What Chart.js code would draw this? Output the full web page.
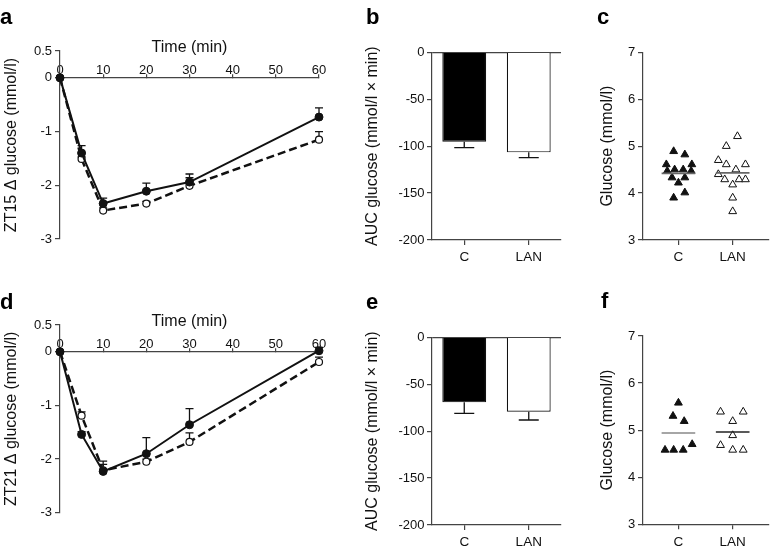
<!DOCTYPE html>
<html>
<head>
<meta charset="utf-8">
<script src="https://cdn.jsdelivr.net/npm/chart.js@4.4.1/dist/chart.umd.min.js"></script>
<style>
  html, body { margin: 0; padding: 0; background: #fff; }
  #wrap { position: relative; width: 774px; height: 551px; overflow: hidden; }
  canvas { position: absolute; }
  .lbl { position: absolute; font: bold 22px 'Liberation Sans', Arial, sans-serif; line-height: 22px; color: #000; }
</style>
</head>
<body>
<div id="wrap">
  <canvas id="cA" width="345" height="270" style="left:0;top:0"></canvas>
  <canvas id="cB" width="220" height="275" style="left:355px;top:0"></canvas>
  <canvas id="cC" width="184" height="275" style="left:590px;top:0"></canvas>
  <canvas id="cD" width="345" height="276" style="left:0;top:275px"></canvas>
  <canvas id="cE" width="220" height="285" style="left:355px;top:275px"></canvas>
  <canvas id="cF" width="184" height="285" style="left:590px;top:275px"></canvas>
  <div class="lbl" style="left:0;top:6px">a</div>
  <div class="lbl" style="left:366px;top:6px">b</div>
  <div class="lbl" style="left:597px;top:6px">c</div>
  <div class="lbl" style="left:0;top:291px">d</div>
  <div class="lbl" style="left:366px;top:291px">e</div>
  <div class="lbl" style="left:601px;top:290px">f</div>
</div>
<script>
// time course (panels a, d)
var timeMin = [0, 5, 10, 20, 30, 60];
var timeTicks = [0, 10, 20, 30, 40, 50, 60];
var deltaTicks = [-3, -2, -1, 0, 0.5];
var zt15Control = [0, -1.40, -2.34, -2.11, -1.94, -0.73];
var zt15ControlSem = [0, 0.14, 0.10, 0.15, 0.15, 0.17];
var zt15Lan = [0, -1.51, -2.47, -2.34, -2.01, -1.15];
var zt15LanSem = [0, 0.04, 0.05, 0.04, 0.15, 0.15];
var zt21Control = [0, -1.54, -2.23, -1.90, -1.36, 0.02];
var zt21ControlSem = [0, 0.05, 0.19, 0.30, 0.30, 0.06];
var zt21Lan = [0, -1.19, -2.21, -2.05, -1.68, -0.19];
var zt21LanSem = [0, 0.07, 0.11, 0.05, 0.17, 0.09];

// AUC (panels b, e)
var groups = ['C', 'LAN'];
var aucTicks = [-200, -150, -100, -50, 0];
var zt15Auc = [-95.3, -106.6];
var zt15AucSem = [6.3, 5.7];
var zt21Auc = [-69.3, -79.3];
var zt21AucSem = [11.7, 8.8];

// basal glucose (panels c, f)
var glucoseTicks = [3, 4, 5, 6, 7];
var zt15GlucoseC = [4.89, 4.82, 4.61, 4.61, 4.47, 4.50, 4.50, 4.47, 4.33, 4.33, 4.22, 4.01, 3.90];
var zt15GlucoseCX = [0.912, 1.118, 0.777, 1.247, 0.794, 0.93, 1.088, 1.235, 0.882, 1.118, 1.0, 1.118, 0.912];
var zt15GlucoseLan = [5.21, 5.0, 4.70, 4.61, 4.61, 4.50, 4.40, 4.29, 4.29, 4.29, 4.18, 3.90, 3.61];
var zt15GlucoseLanX = [2.088, 1.882, 1.735, 1.882, 2.235, 2.059, 1.735, 1.853, 2.118, 2.235, 2.0, 2.0, 2.0];
var zt15Means = [4.42, 4.43];
var zt21GlucoseC = [5.58, 5.30, 5.19, 4.58, 4.58, 4.58, 4.70];
var zt21GlucoseCX = [1.0, 0.9, 1.106, 0.753, 0.912, 1.088, 1.253];
var zt21GlucoseLan = [5.39, 5.39, 5.19, 4.89, 4.68, 4.58, 4.58];
var zt21GlucoseLanX = [1.776, 2.194, 2.0, 2.0, 1.776, 2.0, 2.194];
var zt21Means = [4.94, 4.96];

var FONT = "'Liberation Sans', Arial, Helvetica, sans-serif";
var INK = '#111';
var AXIS = '#444';
var tickFont = { family: FONT, size: 13, lineHeight: 1.2 };
var catFont = { family: FONT, size: 13.5, lineHeight: 1.2 };
var titleFont = { family: FONT, size: 16, weight: 'normal', lineHeight: 1.2 };

Chart.defaults.font.family = FONT;

function pairs(xs, ys) {
  return xs.map(function (x, i) { return { x: x, y: ys[i] }; });
}

function fixedTicks(list) {
  return function (s) { s.ticks = list.map(function (v) { return { value: v }; }); };
}

// one-sided SEM bars, drawn under the markers
var errorBars = {
  id: 'errorBars',
  beforeDatasetsDraw: function (chart) {
    var ctx = chart.ctx;
    var ys = chart.scales.y;
    chart.data.datasets.forEach(function (ds, i) {
      if (!ds.errors) return;
      var meta = chart.getDatasetMeta(i);
      ctx.save();
      ctx.strokeStyle = INK;
      ctx.lineWidth = 1.3;
      meta.data.forEach(function (el, j) {
        var sem = ds.errors[j];
        if (!sem) return;
        var raw = ds.data[j];
        var v = typeof raw === 'object' ? raw.y : raw;
        var y0 = ys.getPixelForValue(v);
        var y1 = ys.getPixelForValue(v + ds.errDir * sem);
        var half = ds.errCap / 2;
        ctx.beginPath();
        ctx.moveTo(el.x, y0);
        ctx.lineTo(el.x, y1);
        ctx.moveTo(el.x - half, y1);
        ctx.lineTo(el.x + half, y1);
        ctx.stroke();
      });
      ctx.restore();
    });
  }
};

function timeCourse(id, ctrl, ctrlSem, lan, lanSem, yTitle, pad) {
  return new Chart(document.getElementById(id), {
    type: 'line',
    data: {
      datasets: [
        { label: 'C', data: pairs(timeMin, ctrl), errors: ctrlSem, errDir: 1, errCap: 8,
          borderColor: INK, borderWidth: 2, pointRadius: 4, pointBackgroundColor: INK,
          pointBorderColor: INK, pointBorderWidth: 1, tension: 0, clip: false },
        { label: 'LAN', data: pairs(timeMin, lan), errors: lanSem, errDir: 1, errCap: 8,
          borderColor: INK, borderWidth: 2.5, borderDash: [8, 4], pointRadius: 3.5,
          pointBackgroundColor: '#fff', pointBorderColor: INK, pointBorderWidth: 1.2, tension: 0, clip: false }
      ]
    },
    options: {
      responsive: false,
      animation: false,
      layout: { padding: { left: 0, right: 26, top: 0, bottom: pad.bottom } },
      plugins: {
        legend: { display: false },
        tooltip: { enabled: false },
        title: { display: true, text: 'Time (min)', fullSize: false, font: titleFont, color: INK,
                 padding: { top: pad.titleTop, bottom: pad.titleBottom } }
      },
      scales: {
        x: {
          type: 'linear', min: 0, max: 60, position: { y: 0 },
          afterBuildTicks: fixedTicks(timeTicks),
          grid: { display: true, drawOnChartArea: false, drawTicks: true, tickLength: -4, color: AXIS, lineWidth: 1.2 },
          border: { display: true, color: AXIS, width: 1.2 },
          ticks: { mirror: true, padding: 4.8, font: tickFont, color: INK, maxRotation: 0, autoSkip: false,
                   callback: function (v) { return String(v); } }
        },
        y: {
          type: 'linear', min: -3, max: 0.5, position: 'left',
          afterBuildTicks: fixedTicks(deltaTicks),
          afterFit: function (s) { s.width = 60; },
          grid: { display: true, drawOnChartArea: false, tickLength: 5, color: AXIS, lineWidth: 1.2 },
          border: { display: true, color: AXIS, width: 1.2 },
          ticks: { padding: 3, font: tickFont, color: INK, callback: function (v) { return String(v); } },
          title: { display: true, text: yTitle, font: titleFont, color: INK, padding: { top: 2.4, bottom: 0 } }
        }
      }
    },
    plugins: [errorBars]
  });
}

function aucChart(id, values, sems, pad) {
  return new Chart(document.getElementById(id), {
    type: 'bar',
    data: {
      labels: groups,
      datasets: [{ data: values, errors: sems, errDir: -1, errCap: 20,
                   backgroundColor: ['#000', '#fff'], borderColor: INK, borderWidth: 1.2,
                   categoryPercentage: 1, barPercentage: 0.68 }]
    },
    options: {
      responsive: false,
      animation: false,
      layout: { padding: { left: 0, right: 14, top: pad.top, bottom: pad.bottom } },
      plugins: { legend: { display: false }, tooltip: { enabled: false } },
      scales: {
        x: {
          afterFit: function (s) { s.height = 30; },
          grid: { display: true, offset: false, drawOnChartArea: false, tickLength: 5, color: AXIS, lineWidth: 1.2 },
          border: { display: true, color: AXIS, width: 1.2 },
          ticks: { font: catFont, color: INK, padding: 4.5 }
        },
        y: {
          min: -200, max: 0,
          afterBuildTicks: fixedTicks(aucTicks),
          afterFit: function (s) { s.width = 77; },
          grid: { display: true, drawOnChartArea: true, tickLength: 5, lineWidth: 1.2, tickColor: AXIS,
                  color: function (c) { return c.tick && c.tick.value === 0 ? AXIS : 'rgba(0,0,0,0)'; } },
          border: { display: true, color: AXIS, width: 1.2 },
          ticks: { padding: 2.5, font: tickFont, color: INK, callback: function (v) { return String(v); } },
          title: { display: true, text: 'AUC glucose (mmol/l \u00d7 min)', font: titleFont, color: INK,
                   padding: { top: 8.4, bottom: 0 } }
        }
      }
    },
    plugins: [errorBars]
  });
}

function glucoseChart(id, cX, cY, lX, lY, means, meanColors, pad) {
  var half = 0.31;
  return new Chart(document.getElementById(id), {
    type: 'scatter',
    data: {
      datasets: [
        { type: 'line', data: [{ x: 1 - half, y: means[0] }, { x: 1 + half, y: means[0] }],
          borderColor: meanColors[0], borderWidth: 1.6, pointRadius: 0 },
        { type: 'line', data: [{ x: 2 - half, y: means[1] }, { x: 2 + half, y: means[1] }],
          borderColor: meanColors[1], borderWidth: 1.6, pointRadius: 0 },
        { data: pairs(cX, cY), pointStyle: 'triangle', pointRadius: 4.5,
          backgroundColor: INK, borderColor: INK, borderWidth: 1 },
        { data: pairs(lX, lY), pointStyle: 'triangle', pointRadius: 4.5,
          backgroundColor: '#fff', borderColor: INK, borderWidth: 1 }
      ]
    },
    options: {
      responsive: false,
      animation: false,
      layout: { padding: { left: 0, right: 0, top: pad.top, bottom: pad.bottom } },
      plugins: { legend: { display: false }, tooltip: { enabled: false } },
      scales: {
        x: {
          type: 'linear', min: 0.347, max: 2.66,
          afterBuildTicks: fixedTicks([1, 2]),
          afterFit: function (s) { s.height = 30; },
          grid: { display: true, drawOnChartArea: false, tickLength: 5, color: AXIS, lineWidth: 1.2 },
          border: { display: true, color: AXIS, width: 1.2 },
          ticks: { font: catFont, color: INK, padding: 4.5, callback: function (v) { return groups[v - 1]; } }
        },
        y: {
          min: 3, max: 7,
          afterBuildTicks: fixedTicks(glucoseTicks),
          afterFit: function (s) { s.width = 53; },
          grid: { display: true, drawOnChartArea: false, tickLength: 5, color: AXIS, lineWidth: 1.2 },
          border: { display: true, color: AXIS, width: 1.2 },
          ticks: { padding: 2.7, font: tickFont, color: INK, callback: function (v) { return String(v); } },
          title: { display: true, text: 'Glucose (mmol/l)', font: titleFont, color: INK,
                   padding: { top: 8.4, bottom: 0 } }
        }
      }
    }
  });
}

timeCourse('cA', zt15Control, zt15ControlSem, zt15Lan, zt15LanSem, 'ZT15 \u0394 glucose (mmol/l)',
  { bottom: 31, titleTop: 38.4, titleBottom: -6.6 });
timeCourse('cD', zt21Control, zt21ControlSem, zt21Lan, zt21LanSem, 'ZT21 \u0394 glucose (mmol/l)',
  { bottom: 38.3, titleTop: 37.1, titleBottom: -6.3 });
aucChart('cB', zt15Auc, zt15AucSem, { top: 52.3, bottom: 5 });
aucChart('cE', zt21Auc, zt21AucSem, { top: 62.3, bottom: 5 });
glucoseChart('cC', zt15GlucoseCX, zt15GlucoseC, zt15GlucoseLanX, zt15GlucoseLan, zt15Means, ['#666', '#666'], { top: 52.3, bottom: 5 });
glucoseChart('cF', zt21GlucoseCX, zt21GlucoseC, zt21GlucoseLanX, zt21GlucoseLan, zt21Means, ['#888', '#222'], { top: 61, bottom: 5.7 });
</script>
</body>
</html>
